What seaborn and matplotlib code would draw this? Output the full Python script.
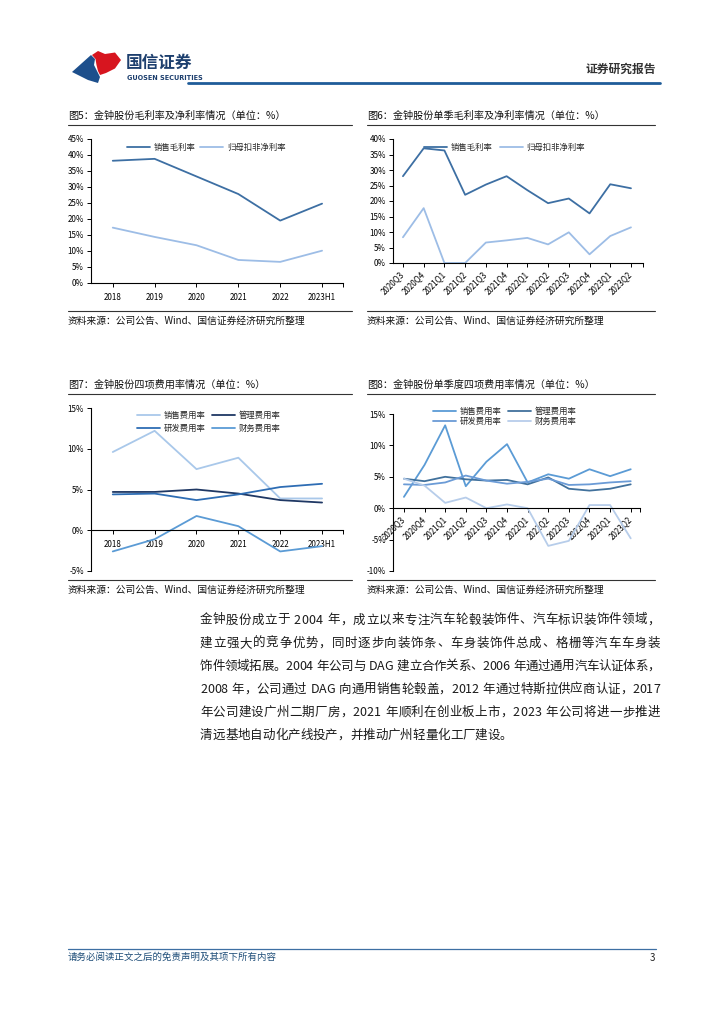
import matplotlib
matplotlib.use('Agg')
import matplotlib.pyplot as plt
import pandas as pd
import seaborn as sns
from matplotlib.patches import Polygon
from matplotlib.ticker import MultipleLocator, FuncFormatter

# ---- data ----
years = ['2018', '2019', '2020', '2021', '2022', '2023H1']
quarters = ['2020Q3', '2020Q4', '2021Q1', '2021Q2', '2021Q3', '2021Q4',
            '2022Q1', '2022Q2', '2022Q3', '2022Q4', '2023Q1', '2023Q2']

# fig 5: yearly margins
gross_y = [38.2, 38.8, 33.3, 27.8, 19.5, 24.8]
net_y = [17.3, 14.4, 11.8, 7.2, 6.6, 10.1]
# fig 6: quarterly margins
gross_q = [28.0, 37.0, 36.3, 22.0, 25.3, 28.0, 23.5, 19.3, 20.8, 16.0, 25.4, 24.1]
net_q = [8.3, 17.7, 0.0, 0.0, 6.6, 7.3, 8.1, 6.0, 9.9, 2.8, 8.7, 11.5]
# fig 7: yearly expense ratios
sell_y = [9.6, 12.2, 7.5, 8.9, 3.9, 3.9]
admin_y = [4.7, 4.7, 5.0, 4.5, 3.7, 3.4]
rd_y = [4.4, 4.5, 3.7, 4.4, 5.3, 5.7]
fin_y = [-2.6, -1.1, 1.75, 0.5, -2.6, -1.95]
# fig 8: quarterly expense ratios
sell_q = [1.8, 6.9, 13.2, 3.5, 7.4, 10.2, 4.1, 5.4, 4.7, 6.2, 5.1, 6.2]
admin_q = [4.7, 4.3, 5.0, 4.6, 4.4, 4.5, 3.8, 4.9, 3.1, 2.8, 3.1, 3.8]
rd_q = [3.8, 3.7, 4.1, 5.2, 4.4, 3.9, 4.2, 4.7, 3.7, 3.8, 4.1, 4.3]
fin_q = [4.7, 3.6, 0.85, 1.7, 0.0, 0.6, 0.0, -6.0, -5.2, 0.5, 0.5, -4.8]

body = [
    '金钟股份成立于 2004 年，成立以来专注汽车轮毂装饰件、汽车标识装饰件领域，',
    '建立强大的竞争优势，同时逐步向装饰条、车身装饰件总成、格栅等汽车车身装',
    '饰件领域拓展。2004 年公司与 DAG 建立合作关系、2006 年通过通用汽车认证体系，',
    '2008 年，公司通过 DAG 向通用销售轮毂盖，2012 年通过特斯拉供应商认证，2017',
    '年公司建设广州二期厂房，2021 年顺利在创业板上市，2023 年公司将进一步推进',
    '清远基地自动化产线投产，并推动广州轻量化工厂建设。',
]
source = '资料来源：公司公告、Wind、国信证券经济研究所整理'

sns.set_theme(style='ticks')
plt.rcParams['font.family'] = ['Noto Sans CJK SC', 'DejaVu Sans']
plt.rcParams['axes.unicode_minus'] = False

W, H = 724, 1024
fig = plt.figure(figsize=(W / 100, H / 100), dpi=100)

# overlay in pixel coords for page furniture
ov = fig.add_axes([0, 0, 1, 1])
ov.set_xlim(0, W)
ov.set_ylim(H, 0)
ov.axis('off')

# header logo
ov.add_patch(Polygon([(72, 72), (91, 55), (95, 59), (94, 65), (97, 71),
                      (100, 77), (98, 83), (88, 80)], closed=True,
                     color='#1d4f8c', lw=0))
ov.add_patch(Polygon([(92, 55), (98, 51), (105, 54), (115, 52.5), (121, 60),
                      (115, 68.5), (106, 73), (100, 75), (98, 71),
                      (96.5, 65), (95.5, 59)], closed=True, color='#d7151f', lw=0))
ov.text(126, 63, '国信证券', fontsize=12, fontweight='bold', color='#1d3f6e', va='center')
ov.text(127, 77.5, 'GUOSEN SECURITIES', fontsize=4.7, fontweight='bold', color='#1d3f6e',
        va='center', family='DejaVu Sans')
ov.text(656, 69, '证券研究报告', fontsize=8.5, fontweight='bold', color='#333333',
        ha='right', va='center')
ov.plot([188, 660], [83, 83], color='#1f5c99', lw=2)

# footer
ov.plot([68, 656], [949, 949], color='#3d6fa3', lw=0.9)
ov.text(68, 957, '请务必阅读正文之后的免责声明及其项下所有内容', fontsize=6.8,
        color='#1f4e79', va='center')
ov.text(655, 958, '3', fontsize=7, color='#222222', ha='right', va='center')

# body paragraph, justified between x=200 and x=660
renderer = fig.canvas.get_renderer()


def text_width(s, fs):
    t = ov.text(0, 0, s, fontsize=fs)
    w = t.get_window_extent(renderer).width
    t.remove()
    return w


body_fs = 9.0
cache = {}
space_w = 4.0
for i, line in enumerate(body):
    y = 620 + i * 23.1
    widths = []
    for ch in line:
        if ch == ' ':
            widths.append(space_w)
        else:
            if ch not in cache:
                cache[ch] = text_width(ch, body_fs)
            widths.append(cache[ch])
    last = i == len(body) - 1
    extra = 0 if last else (660 - 200 - sum(widths)) / (len(line) - 1)
    x = 200
    for ch, w in zip(line, widths):
        if ch != ' ':
            ov.text(x, y, ch, fontsize=body_fs, color='#1a1a1a', va='center')
        x += w + extra


def box(l, t, r, b):
    ax = fig.add_axes([l / W, 1 - b / H, (r - l) / W, (b - t) / H])
    ax.set_facecolor('none')
    return ax


def frame(x0, x1, ytitle, ysrc, title):
    ov.text(x0, ytitle, title, fontsize=7.3, color='#111111', va='center')
    ov.plot([x0, x1], [ytitle + 9, ytitle + 9], color='#333333', lw=0.8)
    ov.plot([x0, x1], [ysrc - 10, ysrc - 10], color='#333333', lw=0.8)
    ov.text(x0, ysrc, source, fontsize=7.0, color='#111111', va='center')


def draw(ax, cats, series, colors, ylim, xlim, zero_axis=False, rot=False,
         leg=None):
    names = list(series.keys())
    df = pd.DataFrame({
        'pos': [i for n in names for i in range(len(cats))],
        'val': [v for n in names for v in series[n]],
        'name': [n for n in names for _ in cats],
    })
    sns.lineplot(data=df, x='pos', y='val', hue='name', hue_order=names,
                 palette=colors, linewidth=1.3, legend=False, sort=False, ax=ax)
    ax.set_xlim(*xlim)
    ax.set_ylim(*ylim)
    ax.set_xlabel('')
    ax.set_ylabel('')
    for s in ['top', 'right']:
        ax.spines[s].set_visible(False)
    for s in ['left', 'bottom']:
        ax.spines[s].set_color('#000000')
        ax.spines[s].set_linewidth(0.8)
    if zero_axis:
        ax.spines['bottom'].set_position(('data', 0))
    ax.yaxis.set_major_locator(MultipleLocator(5))
    ax.yaxis.set_major_formatter(FuncFormatter(lambda v, p: f'{v:.0f}%'))
    ax.set_xticks(list(range(len(cats))) + [xlim[1]])
    ax.set_xticklabels(cats + [''])
    ax.tick_params(axis='both', direction='out', length=3, width=0.7,
                   labelsize=5.8, colors='#000000', pad=2)
    ax.tick_params(axis='x', pad=4)
    if rot:
        for lb in ax.get_xticklabels():
            lb.set_rotation(45)
            lb.set_ha('right')
            lb.set_va('center')
            lb.set_rotation_mode('anchor')
    handles = ax.get_lines()[:len(names)]
    order, anchor, ncol, cs, ls = leg
    ax.legend([handles[i] for i in order], [names[i] for i in order],
              loc='center left', bbox_to_anchor=anchor, ncol=ncol,
              frameon=False, fontsize=6, handlelength=2.8, handletextpad=0.45,
              columnspacing=cs, labelspacing=ls, borderpad=0, borderaxespad=0)


# ---- figure 5 ----
frame(68, 352, 116, 321, '图5：金钟股份毛利率及净利率情况（单位：%）')
ax5 = box(91, 139, 343, 283)
draw(ax5, years, {'销售毛利率': gross_y, '归母扣非净利率': net_y},
     ['#3d6fa3', '#9dbde6'], (0, 45), (-0.52, 5.5),
     leg=([0, 1], (0.143, 0.944), 2, 0.5, 0.3))

# ---- figure 6 ----
frame(367, 655, 116, 321, '图6：金钟股份单季毛利率及净利率情况（单位：%）')
ax6 = box(393, 139, 643, 263)
draw(ax6, quarters, {'销售毛利率': gross_q, '归母扣非净利率': net_q},
     ['#3d6fa3', '#9dbde6'], (0, 40), (-0.48, 11.58), rot=True,
     leg=([0, 1], (0.124, 0.935), 2, 0.8, 0.3))

# ---- figure 7 ----
frame(68, 352, 385, 590, '图7：金钟股份四项费用率情况（单位：%）')
ax7 = box(91, 408, 343, 571)
draw(ax7, years, {'销售费用率': sell_y, '管理费用率': admin_y,
                  '研发费用率': rd_y, '财务费用率': fin_y},
     ['#a9c8ea', '#1f3864', '#2e6db4', '#5b9bd5'], (-5, 15), (-0.52, 5.5),
     zero_axis=True,
     leg=([0, 2, 1, 3], (0.183, 0.914), 2, 0.7, 0.45))

# ---- figure 8 ----
frame(367, 655, 385, 590, '图8：金钟股份单季度四项费用率情况（单位：%）')
ax8 = box(393, 414, 640, 571)
draw(ax8, quarters, {'销售费用率': sell_q, '管理费用率': admin_q,
                     '研发费用率': rd_q, '财务费用率': fin_q},
     ['#5b9bd5', '#41719c', '#6b9bd6', '#b7cdea'], (-10, 15), (-0.53, 11.45),
     zero_axis=True, rot=True,
     leg=([0, 2, 1, 3], (0.162, 0.985), 2, 0.7, 0.1))

fig.savefig('out.png', dpi=100)
